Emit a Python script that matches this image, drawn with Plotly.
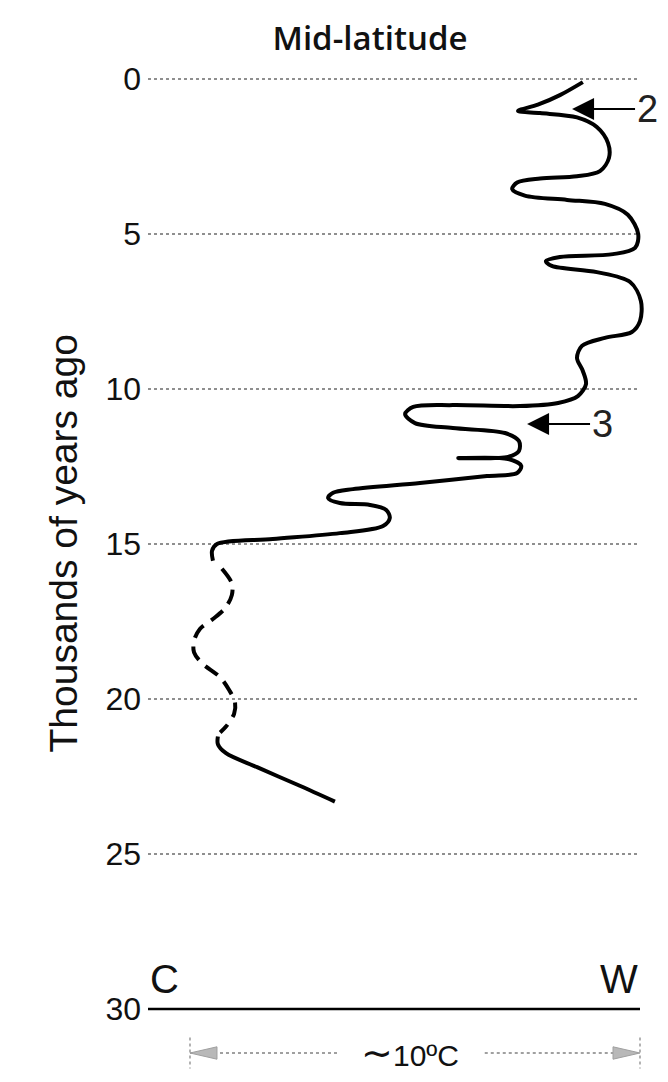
import plotly.graph_objects as go

# ---------------- data (relative temperature in °C, age in thousands of years) -------------
# Holocene + deglaciation (solid)
temp_recent = [8.73, 8.22, 7.73, 7.29, 7.78, 8.60, 9.04, 9.29, 9.31, 9.11, 8.60, 7.78, 7.27, 7.16,
               7.44, 8.38, 9.22, 9.73, 9.96, 9.89, 9.40, 8.22, 7.91, 8.04, 9.04, 9.78, 10.02, 10.00,
               9.82, 9.22, 8.71, 8.60, 8.73, 8.80, 8.62, 8.18, 7.33, 5.84, 4.96, 4.78, 5.00, 5.84,
               7.00, 7.31, 7.31, 7.07, 5.96, 7.07, 7.36, 7.27, 6.60, 5.11, 3.62, 3.18, 3.07, 3.33,
               4.00, 4.36, 4.44, 4.29, 3.33, 1.84, 0.60, 0.49, 0.51]
age_recent = [0.10, 0.52, 0.83, 1.03, 1.10, 1.24, 1.55, 2.07, 2.55, 2.97, 3.14, 3.21, 3.34, 3.55,
              3.76, 3.90, 4.03, 4.38, 5.00, 5.45, 5.65, 5.74, 5.87, 6.03, 6.23, 6.55, 7.16, 7.81,
              8.16, 8.35, 8.61, 9.00, 9.42, 9.84, 10.23, 10.45, 10.55, 10.52, 10.58, 10.81, 11.10, 11.26,
              11.42, 11.68, 12.00, 12.19, 12.23, 12.26, 12.48, 12.71, 12.81, 13.03, 13.23, 13.35, 13.52, 13.68,
              13.74, 13.90, 14.16, 14.42, 14.65, 14.84, 15.00, 15.22, 15.54]

# Uncertain glacial section (dashed)
temp_glacial = [0.71, 0.93, 0.93, 0.78, 0.51, 0.22, 0.09, 0.09, 0.27, 0.67, 0.87, 1.00, 0.98, 0.80, 0.67]
age_glacial = [15.80, 16.27, 16.65, 17.07, 17.42, 17.74, 18.12, 18.50, 18.85, 19.30, 19.71, 20.10, 20.48, 20.89, 21.08]

# Last glacial maximum section (solid)
temp_lgm = [0.62, 0.62, 0.80, 1.49, 2.44, 3.22]
age_lgm = [21.21, 21.46, 21.75, 22.20, 22.80, 23.31]

# Labelled events
event_labels = ["2", "3"]
event_temps = [8.49, 7.49]
event_ages = [0.97, 11.13]

age_ticks = [0, 5, 10, 15, 20, 25, 30]
grid_ages = [0, 5, 10, 15, 20, 25]

scale_cold, scale_warm = 0.0, 10.0      # the ~10 °C span
axis_left = -0.933

# ---------------- figure -------------------------------------------------------------------
W, H = 660, 1074   # page body adds an 8px margin

fig = go.Figure()

line_style = dict(color="black", width=4, shape="spline", smoothing=0.9)
fig.add_trace(go.Scatter(x=temp_recent, y=age_recent, mode="lines", line=line_style,
                         hoverinfo="skip", showlegend=False))
fig.add_trace(go.Scatter(x=temp_glacial, y=age_glacial, mode="lines",
                         line=dict(color="black", width=4, shape="spline", smoothing=0.9,
                                   dash="15px,9px"),
                         hoverinfo="skip", showlegend=False))
fig.add_trace(go.Scatter(x=temp_lgm, y=age_lgm, mode="lines", line=line_style,
                         hoverinfo="skip", showlegend=False))

# dotted horizontal guide lines
for a in grid_ages:
    fig.add_shape(type="line", x0=axis_left, x1=scale_warm, y0=a, y1=a,
                  line=dict(color="#8f8f8f", width=1.8, dash="dot"), layer="below")
# solid base line at 30
fig.add_shape(type="line", x0=axis_left, x1=scale_warm, y0=30, y1=30,
              line=dict(color="black", width=2.5))

# event arrows
for lab, tx, ag in zip(event_labels, event_temps, event_ages):
    fig.add_annotation(x=tx, y=ag, text=lab, showarrow=True, ax=75, ay=0,
                       arrowhead=2, arrowsize=2.2, arrowwidth=2, arrowcolor="black",
                       standoff=0, font=dict(family="Liberation Sans", size=38, color="#222"))

# C / W labels
fig.add_annotation(x=axis_left, y=30, text="C", showarrow=False, xanchor="left",
                   yanchor="bottom", yshift=6,
                   font=dict(family="Liberation Sans", size=40, color="#111"))
fig.add_annotation(x=scale_warm, y=30, text="W", showarrow=False, xanchor="right",
                   yanchor="bottom", yshift=6,
                   font=dict(family="Liberation Sans", size=40, color="#111"))

# ~10 °C scale bar
bar_age = 31.42
grey = "#a0a0a0"
fig.add_shape(type="line", x0=scale_cold, x1=3.30, y0=bar_age, y1=bar_age,
              line=dict(color=grey, width=2, dash="dot"))
fig.add_shape(type="line", x0=6.55, x1=scale_warm, y0=bar_age, y1=bar_age,
              line=dict(color=grey, width=2, dash="dot"))
for xe in (scale_cold, scale_warm):
    fig.add_shape(type="line", x0=xe, x1=xe, y0=bar_age - 0.5, y1=bar_age + 0.5,
                  line=dict(color=grey, width=1.6, dash="dot"))
fig.add_shape(type="path",
              path=f"M {scale_cold} {bar_age} L {scale_cold + 0.6} {bar_age - 0.2} "
                   f"L {scale_cold + 0.6} {bar_age + 0.2} Z",
              fillcolor="#b8b8b8", line=dict(color=grey, width=1))
fig.add_shape(type="path",
              path=f"M {scale_warm} {bar_age} L {scale_warm - 0.6} {bar_age - 0.2} "
                   f"L {scale_warm - 0.6} {bar_age + 0.2} Z",
              fillcolor="#b8b8b8", line=dict(color=grey, width=1))
fig.add_annotation(x=4.89, y=bar_age, showarrow=False,
                   text='<span style="font-size:38px">∼</span>10ºC',
                   font=dict(family="Liberation Sans", size=30, color="#111"))

# y-axis title
fig.add_annotation(xref="paper", x=-0.2173, y=15.0, text="Thousands of years ago",
                   textangle=-90, showarrow=False,
                   font=dict(family="Liberation Sans", size=39, color="#111"))

fig.update_layout(
    width=W, height=H,
    margin=dict(l=140, r=23, t=5, b=5),
    paper_bgcolor="white", plot_bgcolor="white",
    title=dict(text="Mid-latitude", x=362 / W, xanchor="center",
               y=1 - 30 / H, yanchor="middle",
               font=dict(family="Open Sans", size=33, color="#111", weight=600)),
    xaxis=dict(range=[axis_left, 10.111], visible=False, fixedrange=True),
    yaxis=dict(range=[32.194, -2.129], tickvals=age_ticks,
               ticktext=[str(v) for v in age_ticks], showgrid=False, zeroline=False,
               showline=False, ticks="", ticklabelstandoff=6,
               tickfont=dict(family="Liberation Sans", size=32, color="#111")),
    showlegend=False,
)

fig.write_html("out.html")
